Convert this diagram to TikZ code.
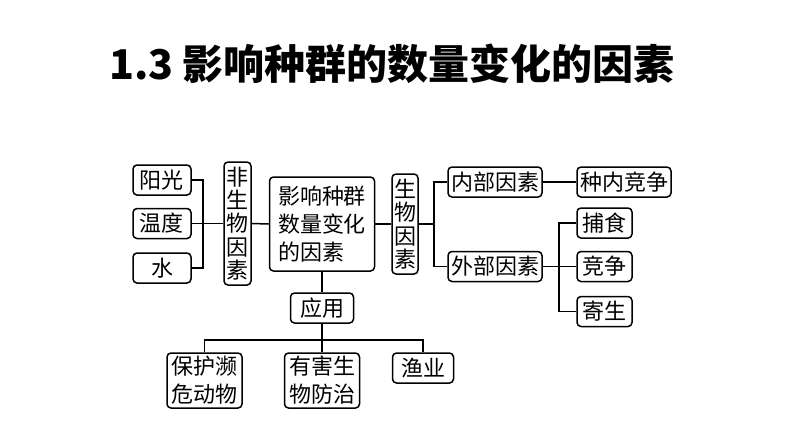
\documentclass[tikz,border=0pt]{standalone}
\usepackage{fontspec}
\setmainfont{Noto Sans CJK SC}
\newfontfamily\cjk{Noto Sans CJK SC}
\usepackage{tikz}
\usetikzlibrary{positioning}
\tikzset{
    box/.style={draw=black,line width=0.75pt,rounded corners=2pt,inner sep=0pt,minimum height=15pt,align=center,font=\cjk\fontsize{11}{14}\selectfont},
    vbox/.style={box,font=\cjk\fontsize{11}{11.6}\selectfont},
    link/.style={line width=0.75pt}
}

\begin{document}
\begin{tikzpicture}[x=0.5pt,y=-0.5pt]
  \useasboundingbox (0,0) rectangle (794,447);
  \node[font=\cjk\bfseries\fontsize{20.5}{24}\selectfont] (title) at (392,64) {1.3 影响种群的数量变化的因素};

  % left branch
  \node[box,minimum width=29pt] (sun)   at (162,180)   {阳光};
  \node[box,minimum width=29pt] (temp)  at (162,223.5) {温度};
  \node[box,minimum width=29pt] (water) at (162,268)   {水};
  \node[vbox,minimum width=13.5pt,minimum height=61.5pt] (abio) at (237.5,223.5) {非\\生\\物\\因\\素};
  \node[box,minimum width=52.5pt,minimum height=47pt,align=left] (main) at (322,224) {影响种群\\数量变化\\的因素};
  \node[vbox,minimum width=13pt,minimum height=50pt] (bio) at (405,224) {生\\物\\因\\素};

  % right branch
  \node[box,minimum width=47pt] (inner) at (495,182)   {内部因素};
  \node[box,minimum width=47pt] (intra) at (624,182)   {种内竞争};
  \node[box,minimum width=47pt] (outer) at (495,266.5) {外部因素};
  \node[box,minimum width=27.5pt] (pred) at (604.5,223)   {捕食};
  \node[box,minimum width=27.5pt] (comp) at (604.5,266.5) {竞争};
  \node[box,minimum width=27.5pt] (para) at (604.5,311.5) {寄生};

  % bottom branch
  \node[box,minimum width=31.5pt] (app) at (322,308) {应用};
  \node[box,minimum width=37.5pt,minimum height=27.5pt] (protect) at (204.5,380.5) {保护濒\\危动物};
  \node[box,minimum width=37.5pt,minimum height=27.5pt] (pest)    at (322,380.5)   {有害生\\物防治};
  \node[box,minimum width=30.5pt] (fish) at (423,368) {渔业};

  \coordinate (jL) at (203,223.5);
  \coordinate (jB) at (434,224);
  \coordinate (jO) at (559,266.5);
  \coordinate (jA) at (322,340);

  \draw[link] (sun.east) -| (jL) |- (water.east);
  \draw[link] (temp.east) -- (abio.west);
  \draw[link] (abio.east) -- (main.west);
  \draw[link] (main.east) -- (bio.west);
  \draw[link] (bio.east) -- (jB);
  \draw[link] (inner.west) -| (jB) |- (outer.west);
  \draw[link] (inner.east) -- (intra.west);
  \draw[link] (outer.east) -- (comp.west);
  \draw[link] (pred.west) -| (jO) |- (para.west);
  \draw[link] (main.south) -- (app.north);
  \draw[link] (app.south) -- (pest.north);
  \draw[link] (protect.north) |- (jA) -| (fish.north);
\end{tikzpicture}
\end{document}
